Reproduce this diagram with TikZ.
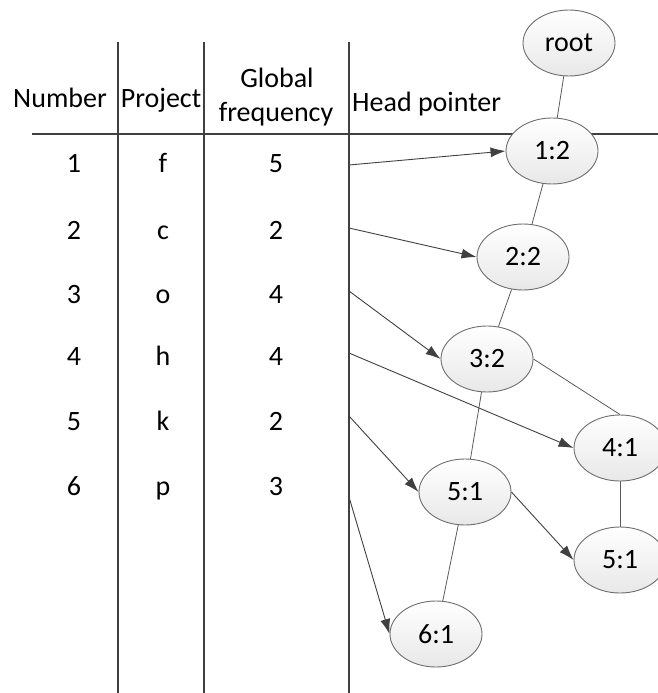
\documentclass[tikz,border=0pt]{standalone}
\usepackage{fontspec}
\setmainfont{Carlito}
\usetikzlibrary{arrows.meta,shapes.geometric}
\definecolor{rule}{HTML}{404040}
\definecolor{edge}{HTML}{5A5A5A}
\definecolor{rim}{HTML}{6E6E6E}
\tikzset{
  txt/.style={anchor=base, inner sep=0pt, font=\fontsize{28}{33}\selectfont},
  fpnode/.style={ellipse, draw=rim, line width=0.9pt, minimum width=92pt, minimum height=66pt,
    inner sep=0pt, shading=axis, shading angle=20, top color=white, bottom color=black!9,
    font=\fontsize{28}{33}\selectfont},
  gridline/.style={draw=rule, line width=1.1pt},
  link/.style={draw=edge, line width=0.8pt},
  ptr/.style={draw=rule, line width=0.9pt, -{Latex[length=15pt, width=10pt]}},
}
\begin{document}
\begin{tikzpicture}[x=1pt, y=-1pt]
\useasboundingbox (0,0) rectangle (658,693);

% table frame
\coordinate (c1t) at (118,42);  \coordinate (c1b) at (118,693);
\coordinate (c2t) at (204,42);  \coordinate (c2b) at (204,693);
\coordinate (c3t) at (349,42);  \coordinate (c3b) at (349,693);
\coordinate (hl) at (32,134);   \coordinate (hr) at (658,134);
\draw[gridline] (c1t) -- (c1b);
\draw[gridline] (c2t) -- (c2b);
\draw[gridline] (c3t) -- (c3b);
\draw[gridline] (hl) -- (hr);

% headers
\node[txt] (hnum) at (60,107) {Number};
\node[txt] (hproj) at (161,107) {Project};
\node[txt] (hglob) at (277,88) {Global};
\node[txt] (hfreq) at (276,121) {frequency};
\node[txt, anchor=base west] (hhead) at (352,111) {Head pointer};

% table rows
\foreach \i/\p/\f/\y in {1/f/5/172, 2/c/2/239, 3/o/4/303, 4/h/4/365, 5/k/2/430, 6/p/3/495}{
  \node[txt] (num\i) at (74,\y) {\i};
  \node[txt] (proj\i) at (163,\y) {\p};
  \node[txt] (freq\i) at (276,\y) {\f};
}

% FP-tree nodes
\node[fpnode] (root) at (569,43) {root};
\node[fpnode] (n12) at (552,151) {1:2};
\node[fpnode] (n22) at (523,257) {2:2};
\node[fpnode] (n32) at (487,359) {3:2};
\node[fpnode] (n41) at (620,448) {4:1};
\node[fpnode] (n51a) at (465,492) {5:1};
\node[fpnode] (n51b) at (620,560) {5:1};
\node[fpnode] (n61) at (436,634) {6:1};

% tree edges
\draw[link] (root) -- (n12);
\draw[link] (n12) -- (n22);
\draw[link] (n22) -- (n32);
\draw[link] (n32) -- (n51a);
\draw[link] (n32.east) -- (n41.north);
\draw[link] (n41) -- (n51b);
\draw[link] (n51a) -- (n61);

% head pointers
\coordinate (p1) at (349,165);
\coordinate (p2) at (349,228);
\coordinate (p3) at (349,291);
\coordinate (p4) at (349,353);
\coordinate (p5) at (349,416);
\coordinate (p6) at (349,497);
\draw[ptr] (p1) -- (n12.west);
\draw[ptr] (p2) -- (n22.west);
\draw[ptr] (p3) -- (n32.west);
\draw[ptr] (p4) -- (n41.west);
\draw[ptr] (p5) -- (n51a.west);
\draw[ptr] (p6) -- (n61.west);
\draw[ptr] (n51a.east) -- (n51b.west);
\end{tikzpicture}
\end{document}
